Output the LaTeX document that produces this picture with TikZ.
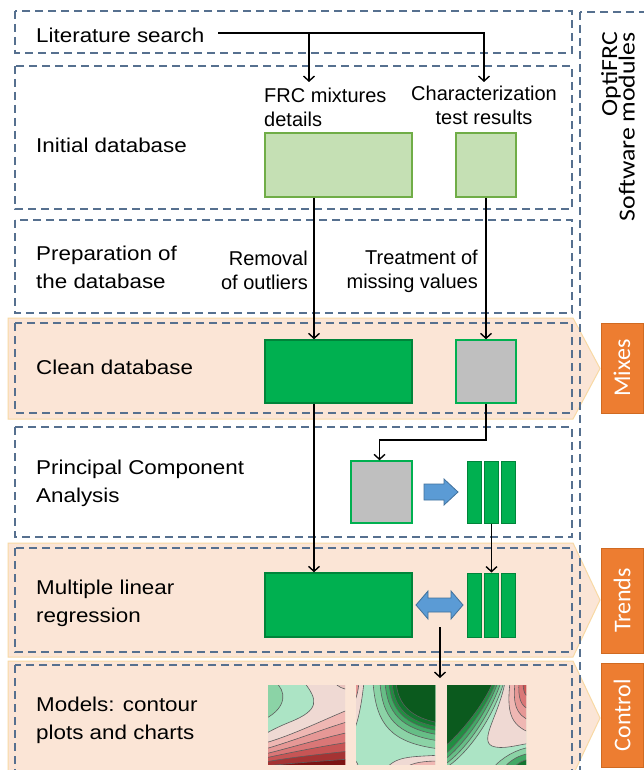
\documentclass[tikz,border=0pt]{standalone}
\usepackage{fontspec}
\setmainfont{Liberation Sans}
\newfontfamily\widefnt[FakeStretch=1.12]{Liberation Sans}
\newfontfamily\calfnt{Carlito}
\newfontfamily\calwide[FakeStretch=1.12]{Carlito}
\newcommand\tightlines{\lineskiplimit=-20pt\relax}
\usetikzlibrary{arrows.meta}
\definecolor{dashc}{HTML}{56708F}
\definecolor{bandfill}{HTML}{FBE5D6}
\definecolor{banddraw}{HTML}{F8D9A4}
\definecolor{orangec}{HTML}{ED7D31}
\definecolor{oranged}{HTML}{D06A22}
\definecolor{lgfill}{HTML}{C5E0B4}
\definecolor{lgdraw}{HTML}{70AD47}
\definecolor{dgfill}{HTML}{00B050}
\definecolor{dgdraw}{HTML}{00843A}
\definecolor{grayfill}{HTML}{BFBFBF}
\definecolor{bluef}{HTML}{5B9BD5}
\definecolor{blued}{HTML}{41719C}
\definecolor{cline}{HTML}{5E5E5E}
\definecolor{cpink}{HTML}{EFD9D3}
\definecolor{cpink2}{HTML}{E9C3BE}
\definecolor{cr1}{HTML}{EFB7B3}
\definecolor{cr2}{HTML}{E69896}
\definecolor{cr3}{HTML}{DA7777}
\definecolor{cr4}{HTML}{C75555}
\definecolor{cr5}{HTML}{A53333}
\definecolor{cr6}{HTML}{7C1313}
\definecolor{cg0}{HTML}{ACE4C5}
\definecolor{cg1}{HTML}{8BD3A6}
\definecolor{cg2}{HTML}{66BE86}
\definecolor{cg3}{HTML}{42A865}
\definecolor{cg4}{HTML}{218E42}
\definecolor{cg5}{HTML}{12742F}
\definecolor{cg6}{HTML}{0B5A1E}
\begin{document}
\begin{tikzpicture}[x=1pt,y=-1pt,
  band/.style={fill=bandfill,draw=banddraw,line width=1pt},
  dbox/.style={draw=dashc,line width=1.5pt,dash pattern=on 8pt off 5pt},
  lbl/.style={anchor=west,inner sep=0pt,align=left,font=\widefnt\fontsize{20}{28}\selectfont},
  slbl/.style={inner sep=0pt,font=\fontsize{20}{24}\selectfont},
  obox/.style={fill=orangec,draw=oranged,line width=0.8pt,text=white,rotate=90,inner sep=0pt,minimum height=42pt,font=\calfnt\fontsize{24}{28}\selectfont},
  lgbox/.style={fill=lgfill,draw=lgdraw,line width=1.5pt,inner sep=0pt},
  dgbox/.style={fill=dgfill,draw=dgdraw,line width=1.5pt,inner sep=0pt},
  grbox/.style={fill=grayfill,draw=dgfill,line width=1.5pt,inner sep=0pt},
  barbox/.style={fill=dgfill,draw=dgdraw,line width=1pt,inner sep=0pt,minimum width=14pt},
  arr/.style={draw=black,line width=1.4pt,-{Straight Barb[length=5pt,width=11pt]}},
  blk/.style={fill=bluef,draw=blued,line width=0.8pt},
  cont/.style={draw=cline,line width=0.6pt}
]
\useasboundingbox (0,0) rectangle (644,770);
\clip (0,0) rectangle (644,770);
\fill[white] (0,0) rectangle (644,770);

% orange bands
\path[band] (8,318) -- (573,318) -- (600,368.5) -- (573,419) -- (8,419) -- cycle;
\path[band] (8,543) -- (573,543) -- (600,600) -- (573,657) -- (8,657) -- cycle;
\path[band] (8,661) -- (573,661) -- (600,718) -- (573,775) -- (8,775) -- cycle;

% dashed row boxes
\draw[dbox] (15,11) rectangle (572,53);
\draw[dbox] (15,66) rectangle (572,209);
\draw[dbox] (15,220) rectangle (572,313);
\draw[dbox] (15,323) rectangle (572,413);
\draw[dbox] (15,427) rectangle (572,537);
\draw[dbox] (15,548) rectangle (572,652);
\draw[dbox] (15,665) rectangle (572,800);
\draw[dbox] (580,12) rectangle (690,800);

% right column
\node[rotate=90,anchor=north east,align=right,inner sep=0pt,
  font=\calwide\fontsize{23}{17.5}\selectfont\tightlines] (opti) at (601,32) {OptiFRC\\Software modules};
\node[obox,minimum width=90pt] (mixes) at (622,368) {Mixes};
\node[obox,minimum width=105pt] (trends) at (622,600.5) {Trends};
\node[obox,minimum width=104pt] (control) at (622,715) {Control};

% left labels
\node[lbl] (lit) at (36,35) {Literature search};
\node[lbl] (init) at (36,145) {Initial database};
\node[lbl] (prep) at (36,267.5) {Preparation of\\the database};
\node[lbl] (clean) at (36,367) {Clean database};
\node[lbl] (pca) at (36,483) {Principal Component\\Analysis};
\node[lbl] (mlr) at (36,603.5) {Multiple linear\\regression};
\node[lbl] (models) at (36,720.5) {Models: contour\\plots and charts};

% inner labels
\node[slbl,anchor=west,align=left] (frclbl) at (264,107.5) {FRC mixtures\\details};
\node[slbl,align=center] (charlbl) at (484,105.5) {Characterization\\test results};
\node[slbl,anchor=east,align=right] (remlbl) at (308,270.5) {Removal\\of outliers};
\node[slbl,anchor=east,align=right] (trtlbl) at (478,271.5) {Treatment of\\missing values};

% boxes
\node[lgbox,minimum width=147pt,minimum height=64pt] (frcbox) at (338.5,165) {};
\node[lgbox,minimum width=60pt,minimum height=64pt] (charbox) at (486,165) {};
\node[dgbox,minimum width=147pt,minimum height=63pt] (cleanbox) at (338.5,371.5) {};
\node[grbox,minimum width=60pt,minimum height=63pt] (gray1) at (486,371.5) {};
\node[grbox,minimum width=61pt,minimum height=62pt] (gray2) at (381.5,492) {};
\node[barbox,minimum height=62pt] (pbar1) at (474.5,492) {};
\node[barbox,minimum height=62pt] (pbar2) at (491.5,492) {};
\node[barbox,minimum height=62pt] (pbar3) at (508.5,492) {};
\node[dgbox,minimum width=147pt,minimum height=64pt] (mlrbox) at (338.5,605) {};
\node[barbox,minimum height=64pt] (mbar1) at (474.5,605) {};
\node[barbox,minimum height=64pt] (mbar2) at (491.5,605) {};
\node[barbox,minimum height=64pt] (mbar3) at (508.5,605) {};

% connectors
\coordinate (ja) at (309,33);
\coordinate (tb) at (484,82);
\coordinate (ta) at (309,82);
\coordinate (ca) at (314,0);
\coordinate (jc) at (0,440);
\draw[arr] ([xshift=14pt,yshift=2pt]lit.east) -| (tb);
\draw[arr] (ja) -- (ta);
\draw[arr] (frcbox.south -| ca) -- (cleanbox.north -| ca);
\draw[arr] (charbox.south) -- (gray1.north);
\draw[arr] (gray1.south) -- (gray1.south |- jc) -- ([xshift=-2pt]gray2.north |- jc) -- ([xshift=-2pt]gray2.north);
\draw[arr] (cleanbox.south -| ca) -- (mlrbox.north -| ca);
\draw[arr] (pbar2.south) -- (mbar2.north);
\coordinate (ds) at (440,627);
\coordinate (de) at (440,678);
\draw[arr] (ds) -- (de);

% block arrows
\path[blk] (424,484) -- (444,484) -- (444,479) -- (458,492) -- (444,505) -- (444,500) -- (424,500) -- cycle;
\path[blk] (416,605) -- (428,591) -- (428,598) -- (451,598) -- (451,591) -- (463,605) -- (451,619) -- (451,612) -- (428,612) -- (428,619) -- cycle;

% contour plot 1
\begin{scope}[shift={(268,685)}]
  \clip (0,0) rectangle (77,79);
  \fill[cpink] (-3,-3) rectangle (82,82);
  \path[fill=cg0,cont] (36,-3) .. controls (50,15) and (52,25) .. (22,37) .. controls (12,41) and (4,45) .. (-3,49) -- (-3,-3) -- cycle;
  \path[fill=cg1,cont] (7,-3) .. controls (18,5) and (20,22) .. (-3,34) -- (-3,-3) -- cycle;
  \path[fill=cpink2,cont] (66,-3) .. controls (70,2) and (75,4) .. (82,5) -- (82,-3) -- cycle;
  \path[fill=cr1,cont] (-3,58) .. controls (25,50) and (55,35) .. (82,24) -- (82,84) -- (-3,84) -- cycle;
  \path[fill=cr2,cont] (-3,64) .. controls (25,56) and (55,44) .. (82,36) -- (82,84) -- (-3,84) -- cycle;
  \path[fill=cr3,cont] (-3,69) .. controls (25,62) and (55,53) .. (82,47) -- (82,84) -- (-3,84) -- cycle;
  \path[fill=cr4,cont] (-3,73) .. controls (25,67) and (55,61) .. (82,57) -- (82,84) -- (-3,84) -- cycle;
  \path[fill=cr5,cont] (-3,77) .. controls (25,72) and (55,69) .. (82,66) -- (82,84) -- (-3,84) -- cycle;
  \path[fill=cr6,cont] (-3,81) .. controls (25,78) and (55,76) .. (82,74) -- (82,84) -- (-3,84) -- cycle;
\end{scope}

% contour plot 2
\begin{scope}[shift={(356,685)}]
  \clip (0,0) rectangle (79,79);
  \fill[cg0] (-3,-3) rectangle (82,82);
  \path[fill=cpink,cont] (8,-3) .. controls (6,15) and (3,35) .. (-3,48) -- (-3,-3) -- cycle;
  \path[fill=cr2,cont] (3,-3) .. controls (2,8) and (0,14) .. (-3,20) -- (-3,-3) -- cycle;
  \path[fill=cpink,cont] (-3,74) .. controls (1,76) and (2,79) .. (3,84) -- (-3,84) -- cycle;
  \path[fill=cpink,cont] (30,84) .. controls (40,70) and (60,72) .. (84,70) -- (84,84) -- cycle;
  \path[fill=cr1,cont] (48,84) .. controls (55,77) and (70,76) .. (84,76) -- (84,84) -- cycle;
  \path[fill=cg1,cont] (17,-3) .. controls (20,40) and (35,58) .. (84,64) -- (84,-3) -- cycle;
  \path[fill=cg2,cont] (24,-3) .. controls (26,32) and (40,50) .. (84,56) -- (84,-3) -- cycle;
  \path[fill=cg3,cont] (29,-3) .. controls (31,28) and (45,44) .. (84,50) -- (84,-3) -- cycle;
  \path[fill=cg4,cont] (33,-3) .. controls (35,25) and (48,40) .. (84,46) -- (84,-3) -- cycle;
  \path[fill=cg5,cont] (36,-3) .. controls (38,23) and (51,37) .. (84,42) -- (84,-3) -- cycle;
  \path[fill=cg6,cont] (40,-3) .. controls (42,20) and (55,33) .. (84,38) -- (84,-3) -- cycle;
\end{scope}

% contour plot 3
\begin{scope}[shift={(447,685)}]
  \clip (0,0) rectangle (79,79);
  \fill[cg0] (-3,-3) rectangle (82,82);
  \path[fill=cpink,cont] (58,-3) .. controls (52,30) and (32,55) .. (45,61) .. controls (55,65) and (70,60) .. (84,58) -- (84,-3) -- cycle;
  \path[fill=cr1,cont] (63,-3) .. controls (60,25) and (62,40) .. (84,48) -- (84,-3) -- cycle;
  \path[fill=cr2,cont] (68,-3) .. controls (66,18) and (68,30) .. (84,36) -- (84,-3) -- cycle;
  \path[fill=cr3,cont] (72,-3) .. controls (71,12) and (73,22) .. (84,25) -- (84,-3) -- cycle;
  \path[fill=cr4,cont] (76,-3) .. controls (76,6) and (78,12) .. (84,14) -- (84,-3) -- cycle;
  \path[fill=cg1,cont] (57,-3) .. controls (45,35) and (20,70) .. (-3,84) -- (-3,-3) -- cycle;
  \path[fill=cg2,cont] (54,-3) .. controls (42,32) and (18,66) .. (-3,80) -- (-3,-3) -- cycle;
  \path[fill=cg3,cont] (51,-3) .. controls (40,28) and (15,62) .. (-3,75) -- (-3,-3) -- cycle;
  \path[fill=cg4,cont] (49,-3) .. controls (38,25) and (12,58) .. (-3,70) -- (-3,-3) -- cycle;
  \path[fill=cg6,cont] (46,-3) .. controls (36,22) and (10,52) .. (-3,62) -- (-3,-3) -- cycle;
  \path[fill=cg1,cont] (45,84) .. controls (55,72) and (70,64) .. (84,62) -- (84,84) -- cycle;
  \path[fill=cg3,cont] (56,84) .. controls (63,75) and (72,70) .. (84,68) -- (84,84) -- cycle;
  \path[fill=cg5,cont] (66,84) .. controls (70,78) and (76,75) .. (84,74) -- (84,84) -- cycle;
\end{scope}
\end{tikzpicture}
\end{document}
